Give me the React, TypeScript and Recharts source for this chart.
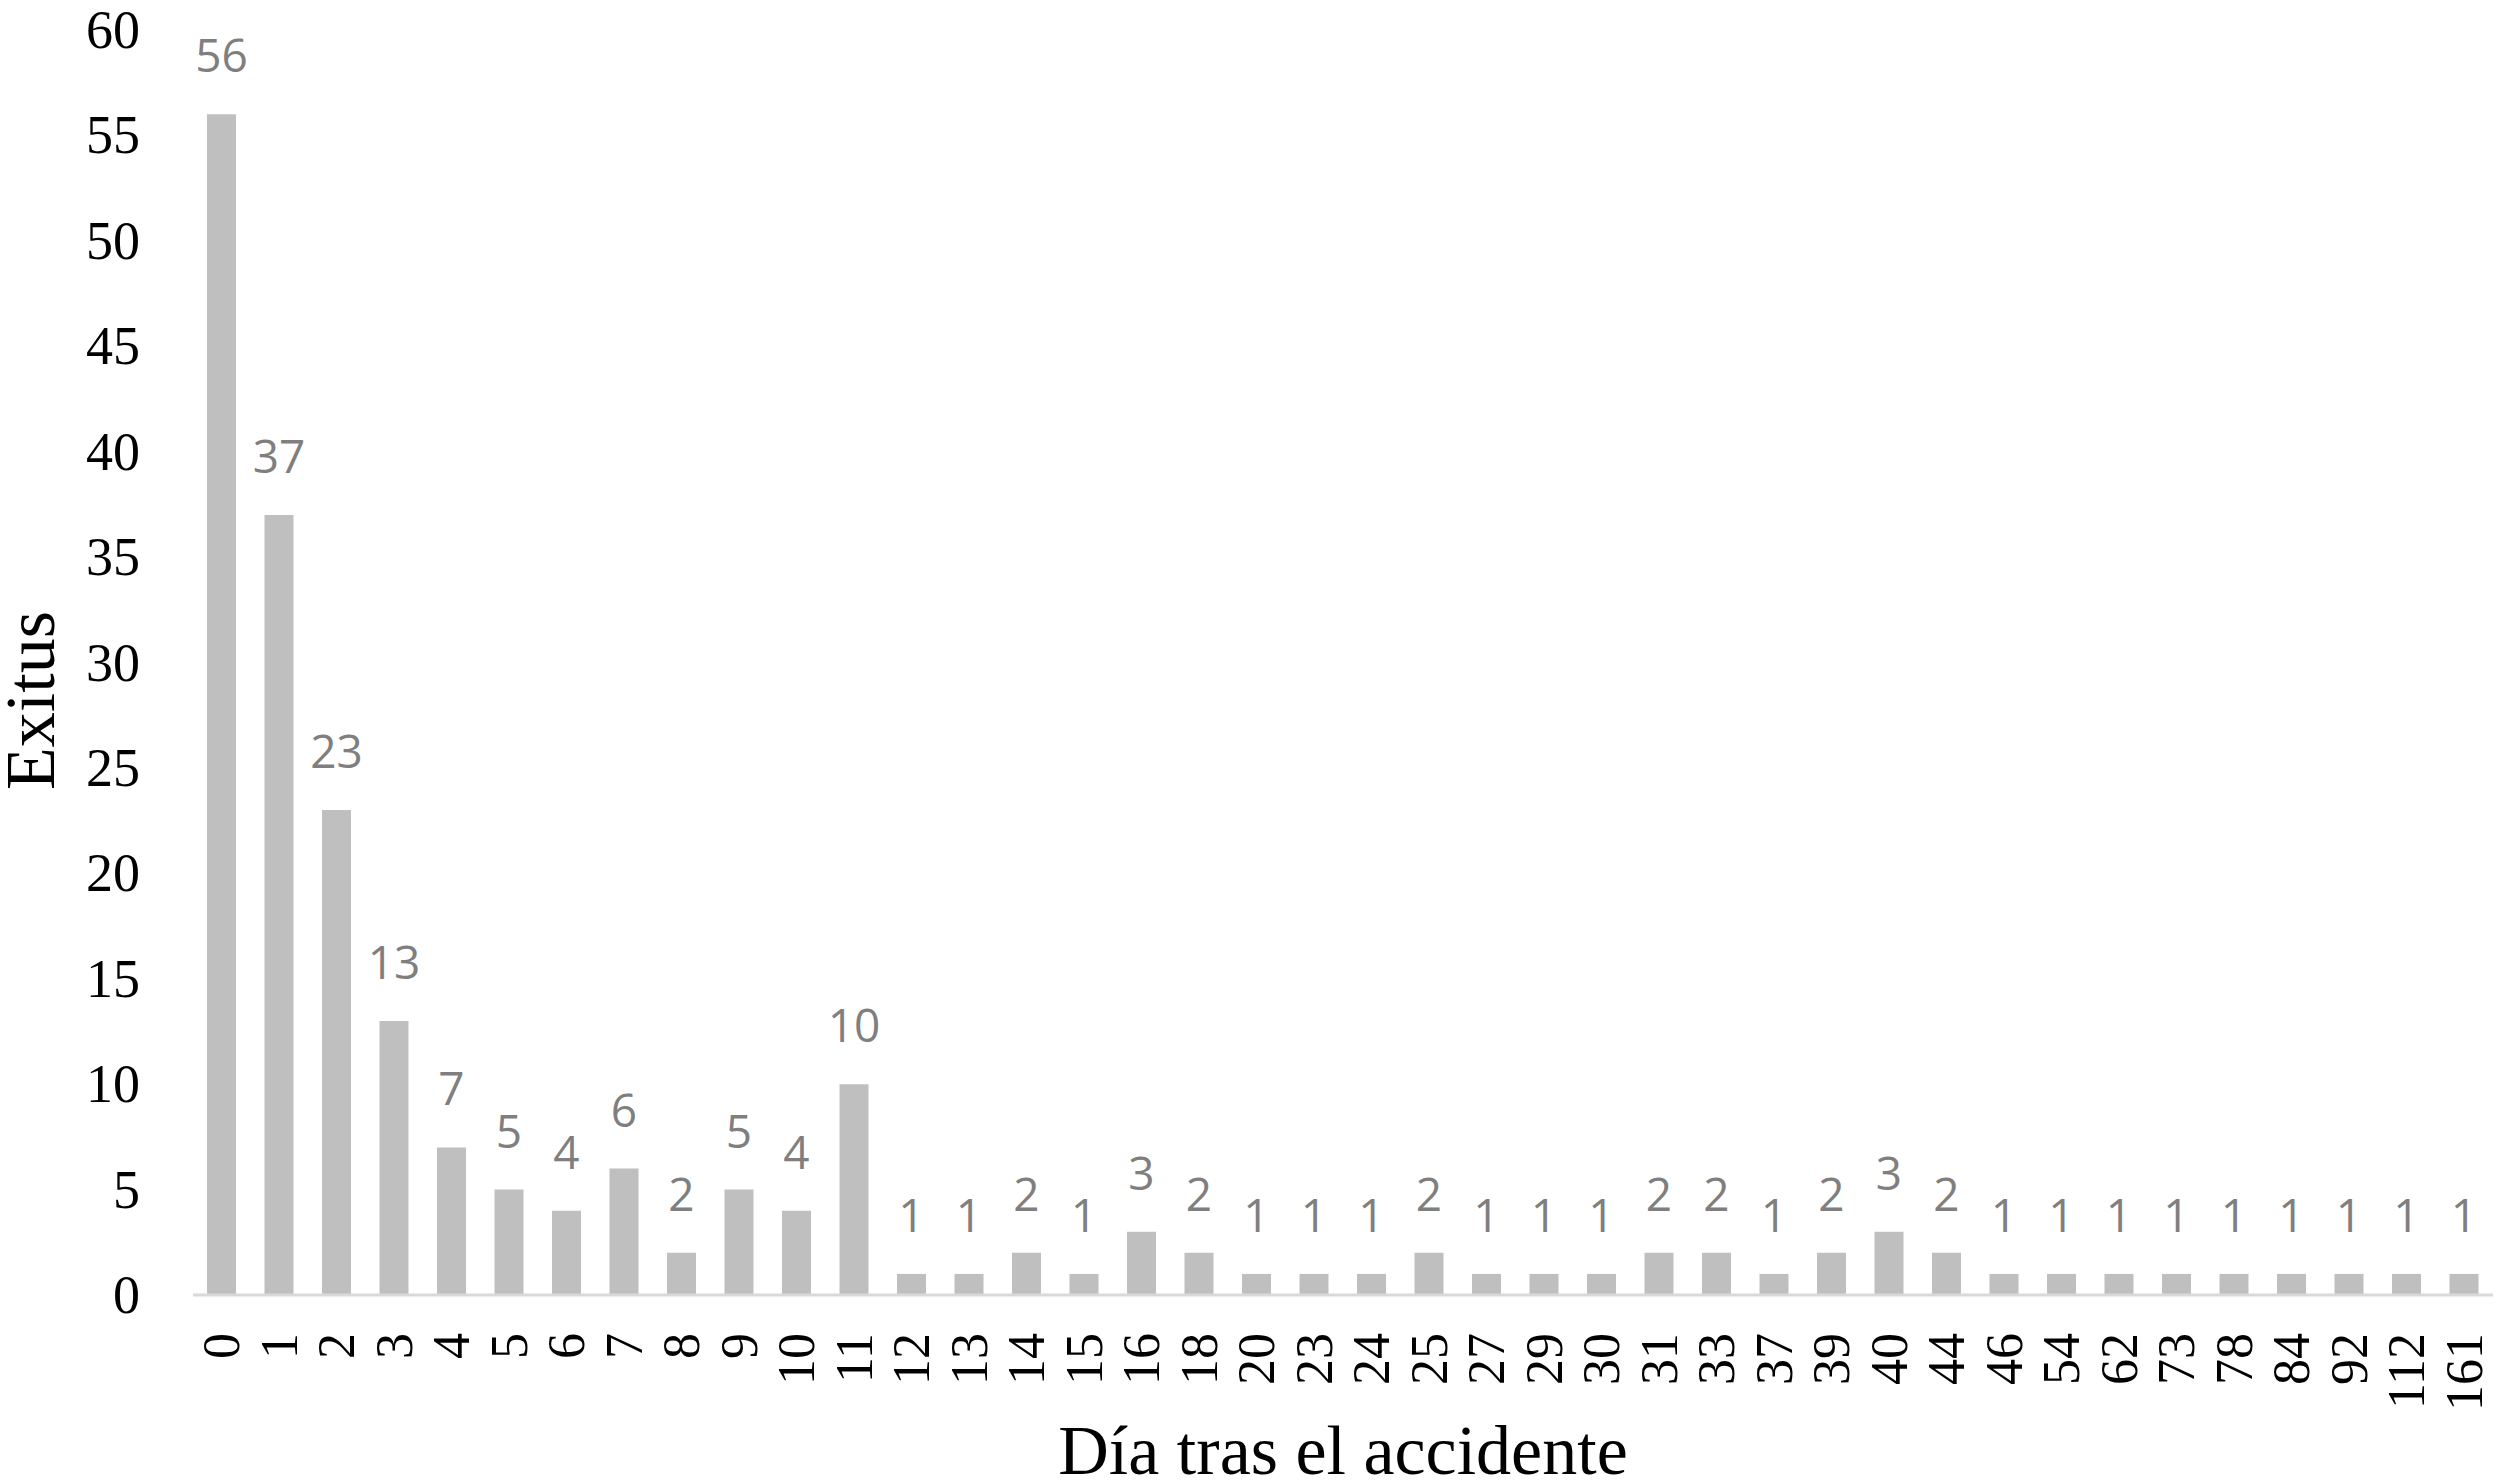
import { BarChart, Bar, XAxis, YAxis, LabelList } from 'recharts'

const days = [
    '0', '1', '2', '3', '4', '5', '6', '7', '8', '9', '10', '11', '12', '13', '14', '15', '16', '18', '20', '23',
    '24', '25', '27', '29', '30', '31', '33', '37', '39', '40', '44', '46', '54', '62', '73', '78', '84', '92', '112', '161',
]

const exitus = [
    56, 37, 23, 13, 7, 5, 4, 6, 2, 5, 4, 10, 1, 1, 2, 1, 3, 2, 1, 1,
    1, 2, 1, 1, 1, 2, 2, 1, 2, 3, 2, 1, 1, 1, 1, 1, 1, 1, 1, 1,
]

const yTicks = [0, 5, 10, 15, 20, 25, 30, 35, 40, 45, 50, 55, 60]

const data = days.map((d, i) => ({ day: d, value: exitus[i] }))

const SERIF = '"Liberation Serif", "Times New Roman", serif'

function YTick({ x, y, payload }: any) {
    return (
        <text x={x - 53} y={y} textAnchor="end" dominantBaseline="central" fontFamily={SERIF} fontSize={54} fill="#000">
            {payload.value}
        </text>
    )
}

function XTick({ x, y, payload }: any) {
    return (
        <g transform={`translate(${x},${y})`}>
            <text transform="rotate(-90)" x={-38} y={0} textAnchor="end" dominantBaseline="central" fontFamily={SERIF} fontSize={52} fill="#000">
                {payload.value}
            </text>
        </g>
    )
}

// rotated axis title, sits a bit below the plot's middle like the original
function YTitle({ viewBox }: any) {
    const cx = viewBox.x + 54
    const cy = viewBox.y + viewBox.height / 2 + 38
    return (
        <text transform={`translate(${cx},${cy}) rotate(-90)`} textAnchor="middle" fontFamily={SERIF} fontSize={70} fill="#000">
            Exitus
        </text>
    )
}

export default function App() {
    return (
        <div style={{ position: 'absolute', left: 0, top: 0, width: 2508, height: 1483, background: '#fff' }}>
            <BarChart width={2508} height={1483} data={data} margin={{ top: 30, right: 15, left: 0, bottom: 0 }}>
                <XAxis
                    dataKey="day"
                    interval={0}
                    height={188}
                    tickLine={false}
                    tickSize={0}
                    tickMargin={0}
                    axisLine={{ stroke: '#d9d9d9', strokeWidth: 3 }}
                    tick={<XTick />}
                    label={{
                        value: 'Día tras el accidente',
                        position: 'insideBottom',
                        offset: 9,
                        fontSize: 70,
                        fontFamily: SERIF,
                        fill: '#000',
                    }}
                />
                <YAxis
                    width={193}
                    domain={[0, 60]}
                    ticks={yTicks}
                    axisLine={false}
                    tickLine={false}
                    tickSize={0}
                    tickMargin={0}
                    tick={<YTick />}
                    label={{ content: <YTitle /> }}
                />
                <Bar dataKey="value" fill="#bfbfbf" barSize={29} isAnimationActive={false}>
                    <LabelList
                        dataKey="value"
                        position="top"
                        offset={42}
                        fill="#7f7f7f"
                        fontSize={46}
                        fontFamily='"Open Sans", sans-serif'
                    />
                </Bar>
            </BarChart>
        </div>
    )
}
